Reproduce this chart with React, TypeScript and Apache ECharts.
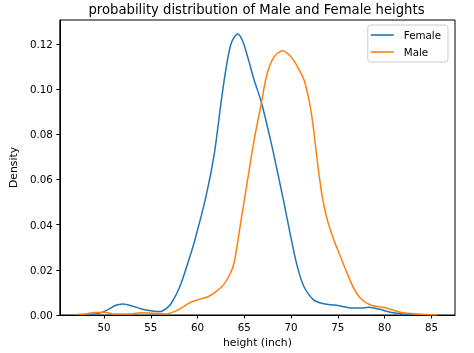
import React, { useEffect, useRef } from "react";
import * as echarts from "echarts";

const title = "probability distribution of Male and Female heights";
const xName = "height (inch)";
const yName = "Density";
const xTicks = [50, 55, 60, 65, 70, 75, 80, 85];
const yTicks = [0, 0.02, 0.04, 0.06, 0.08, 0.1, 0.12];

const femaleX = [48.5, 49.5, 50.5, 51.2, 52.0, 53.0, 54.0, 55.0, 56.0, 56.7, 57.2, 58.1, 59.0, 59.7, 60.9, 61.8, 62.5, 63.0, 63.6, 64.3, 64.8, 65.35, 66.05, 66.8, 67.8, 68.5, 69.25, 69.96, 70.67, 71.38, 72.44, 73.5, 74.6, 75.5, 76.4, 77.5, 78.3, 79.5, 80.5, 81.3, 82.7];
const femaleY = [0.0002, 0.0008, 0.0025, 0.0042, 0.0049, 0.004, 0.0027, 0.0019, 0.0015, 0.003, 0.0052, 0.0125, 0.0235, 0.033, 0.0524, 0.0716, 0.0937, 0.108, 0.1203, 0.1244, 0.1215, 0.1144, 0.104, 0.0945, 0.0775, 0.0642, 0.0495, 0.0347, 0.0214, 0.0125, 0.0066, 0.005, 0.0044, 0.0038, 0.0031, 0.0031, 0.0034, 0.0025, 0.0013, 0.0008, 0.0001];

const maleX = [47.1, 48.0, 49.0, 50.0, 51.2, 52.5, 54.0, 55.3, 56.5, 57.9, 59.0, 59.7, 61.1, 62.0, 62.7, 63.4, 63.9, 64.6, 65.35, 66.05, 66.75, 67.45, 68.2, 69.1, 69.96, 70.67, 71.38, 71.91, 72.27, 72.62, 72.97, 73.33, 73.87, 74.57, 75.28, 75.99, 76.7, 77.41, 78.5, 80.25, 81.7, 83.5, 85.6];
const maleY = [0.0002, 0.0005, 0.0011, 0.0012, 0.0004, 0.0004, 0.001, 0.0008, 0.0004, 0.0022, 0.005, 0.0063, 0.0081, 0.0105, 0.013, 0.0175, 0.0229, 0.0406, 0.0598, 0.0775, 0.0923, 0.107, 0.1144, 0.117, 0.1144, 0.11, 0.1041, 0.0952, 0.0864, 0.0745, 0.0627, 0.0524, 0.0421, 0.0332, 0.0258, 0.0185, 0.0118, 0.0074, 0.0044, 0.003, 0.0012, 0.0004, 0.0];

const FONT = "DejaVu Sans";

export default function App() {
  const ref = useRef<HTMLDivElement>(null);
  useEffect(() => {
    if (!ref.current) return;
    const chart = echarts.init(ref.current, undefined, { renderer: "svg" });
    const pair = (xs: number[], ys: number[]) => xs.map((x, i) => [x, ys[i]]);
    chart.setOption({
      animation: false,
      textStyle: { fontFamily: FONT },
      grid: { left: 58, right: 19, top: 20, bottom: 38, show: true, borderColor: "#000", borderWidth: 1, backgroundColor: "transparent" },
      graphic: [
        {
          type: "text",
          x: 256.5,
          y: 9.5,
          style: { text: title, fontSize: 13.2, fontFamily: FONT, fill: "#000", textAlign: "center", textVerticalAlign: "middle" },
        },
      ],
      legend: {
        orient: "vertical",
        right: 26,
        top: 25,
        padding: [4, 7, 4, 3],
        itemGap: 5,
        itemWidth: 23,
        itemHeight: 1.6,
        icon: "rect",
        borderColor: "#cccccc",
        borderWidth: 1,
        borderRadius: 3,
        backgroundColor: "rgba(255,255,255,0.8)",
        textStyle: { fontSize: 10.3, color: "#000", fontFamily: FONT, padding: [0, 0, 0, 5], lineHeight: 12 },
        data: ["Female", "Male"],
      },
      xAxis: {
        type: "value",
        min: 45.28,
        max: 87.52,
        name: xName,
        nameLocation: "middle",
        nameGap: 21,
        nameTextStyle: { fontSize: 10.8, color: "#000", fontFamily: FONT },
        axisLine: { show: true, lineStyle: { color: "#000", width: 1 } },
        axisTick: { show: true, length: 3.5, lineStyle: { color: "#000" }, customValues: xTicks },
        axisLabel: { fontSize: 10.3, color: "#000", margin: 7, customValues: xTicks, formatter: (v: number) => String(v) },
        splitLine: { show: false },
      },
      yAxis: {
        type: "value",
        min: 0,
        max: 0.1306,
        name: yName,
        nameLocation: "middle",
        nameGap: 38,
        nameTextStyle: { fontSize: 10.8, color: "#000", fontFamily: FONT },
        axisLine: { show: true, lineStyle: { color: "#000", width: 1 } },
        axisTick: { show: true, length: 3.5, lineStyle: { color: "#000" }, customValues: yTicks },
        axisLabel: { fontSize: 10.3, color: "#000", margin: 7, customValues: yTicks, formatter: (v: number) => v.toFixed(2) },
        splitLine: { show: false },
      },
      series: [
        {
          name: "Female",
          type: "line",
          data: pair(femaleX, femaleY),
          smooth: 0.3,
          symbol: "none",
          lineStyle: { color: "#1f77b4", width: 1.5 },
          itemStyle: { color: "#1f77b4" },
        },
        {
          name: "Male",
          type: "line",
          data: pair(maleX, maleY),
          smooth: 0.3,
          symbol: "none",
          lineStyle: { color: "#ff7f0e", width: 1.5 },
          itemStyle: { color: "#ff7f0e" },
        },
      ],
    });
    return () => chart.dispose();
  }, []);
  return <div ref={ref} style={{ position: "fixed", left: 0, top: 0, width: 474, height: 353 }} />;
}
